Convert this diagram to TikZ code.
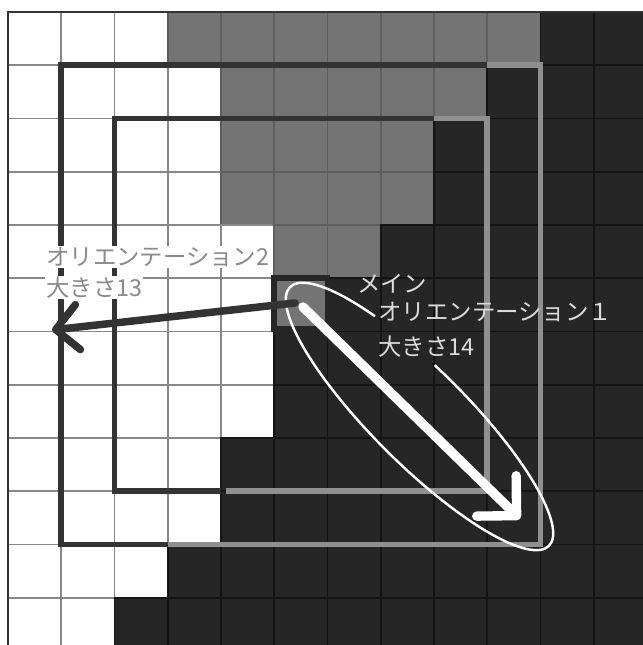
\documentclass[tikz,border=0pt]{standalone}
\usepackage{fontspec}
\newfontfamily\jpfont{Noto Sans CJK JP}
\usepackage{tikz}
\usetikzlibrary{arrows.meta}
\definecolor{cellgray}{HTML}{747474}
\definecolor{celldark}{HTML}{262626}
\definecolor{linewhite}{HTML}{888888}
\definecolor{linegray}{HTML}{5E5E5E}
\definecolor{linedark}{HTML}{141414}
\definecolor{framedark}{HTML}{333333}
\definecolor{framelight}{HTML}{8F8F8F}
\definecolor{textwhite}{HTML}{DCDCDC}
\definecolor{textgray}{HTML}{8A8A8A}

\begin{document}
\begin{tikzpicture}[x=1cm, y=1cm,
                    framepart/.style={line width=3pt},
                    ring/.style={draw=white, line width=1.3pt},
                    lefttext/.style={anchor=west, inner sep=0.5pt, fill=white, text=textgray,
                                     font=\jpfont\fontsize{12.5}{15}\selectfont},
                    righttext/.style={anchor=west, inner sep=0pt, text=textwhite,
                                      font=\jpfont\fontsize{12.5}{15}\selectfont},
                    subarrow/.style={draw=framedark, line width=4pt, line cap=round,
                                     -{Straight Barb[length=4.2mm, width=8.5mm, round]}},
                    mainarrow/.style={draw=white, line width=5pt, line cap=round,
                                      -{Straight Barb[length=5.3mm, width=10.6mm, round]}}]
  \useasboundingbox (-0.15,0.225) rectangle (11.925,-11.888);
  \clip (-0.15,0.225) rectangle (11.925,-11.888);

  % row / white cells / gray cells, the rest is dark
  \foreach \r/\nw/\ng in {0/3/7, 1/4/5, 2/4/4, 3/4/4, 4/5/2, 5/5/1,
                          6/5/0, 7/5/0, 8/4/0, 9/4/0, 10/3/0, 11/2/0}
    \foreach \c in {0,...,11}{
      \pgfmathtruncatemacro\lim{\nw+\ng}
      \ifnum\c<\nw\relax \def\cf{white}\def\cl{linewhite}%
      \else\ifnum\c<\lim\relax \def\cf{cellgray}\def\cl{linegray}%
      \else \def\cf{celldark}\def\cl{linedark}\fi\fi
      \filldraw[fill=\cf, draw=\cl, line width=1pt] (\c,-\r) rectangle ++(1,-1);
    }
  \draw[framedark, line width=1.5pt] (0,-12.2) -- (0,0) -- (12.2,0);
  \filldraw[fill=cellgray, draw=celldark, line width=3pt] (5,-5) rectangle (6,-5.95);

  \draw[framepart, framedark] (3,-10) -- (1,-10) -- (1,-1) -- (9,-1);
  \draw[framepart, framelight] (9,-1) -- (10,-1) -- (10,-10) -- (3,-10);
  \draw[framepart, framedark] (4,-9) -- (2,-9) -- (2,-2) -- (8,-2);
  \draw[framepart, framelight] (8,-2) -- (9,-2) -- (9,-9) -- (4.1,-9);

  \node[lefttext] (ori2) at (0.695,-4.60) {オリエンテーション2};
  \node[lefttext] (size2) at (0.695,-5.18) {大きさ13};
  \node[righttext] (mainlbl) at (6.55,-5.11) {メイン};
  \node[righttext] (ori1) at (6.95,-5.63) {オリエンテーション１};
  \node[righttext] (size1) at (6.95,-6.29) {大きさ14};

  \begin{scope}[shift={(7.728,-7.596)}, rotate=-45]
    \draw[ring] (124:3.437 and 0.892)
      arc[start angle=124, end angle=458, x radius=3.437, y radius=0.892];
  \end{scope}

  \coordinate (subfrom) at (5.39,-5.465);
  \coordinate (subtip) at (0.826,-5.972);
  \coordinate (mainfrom) at (5.54,-5.54);
  \coordinate (maintip) at (9.615,-9.52);
  \draw[subarrow] (subfrom) -- (subtip);
  \draw[mainarrow] (mainfrom) -- (maintip);
\end{tikzpicture}
\end{document}
